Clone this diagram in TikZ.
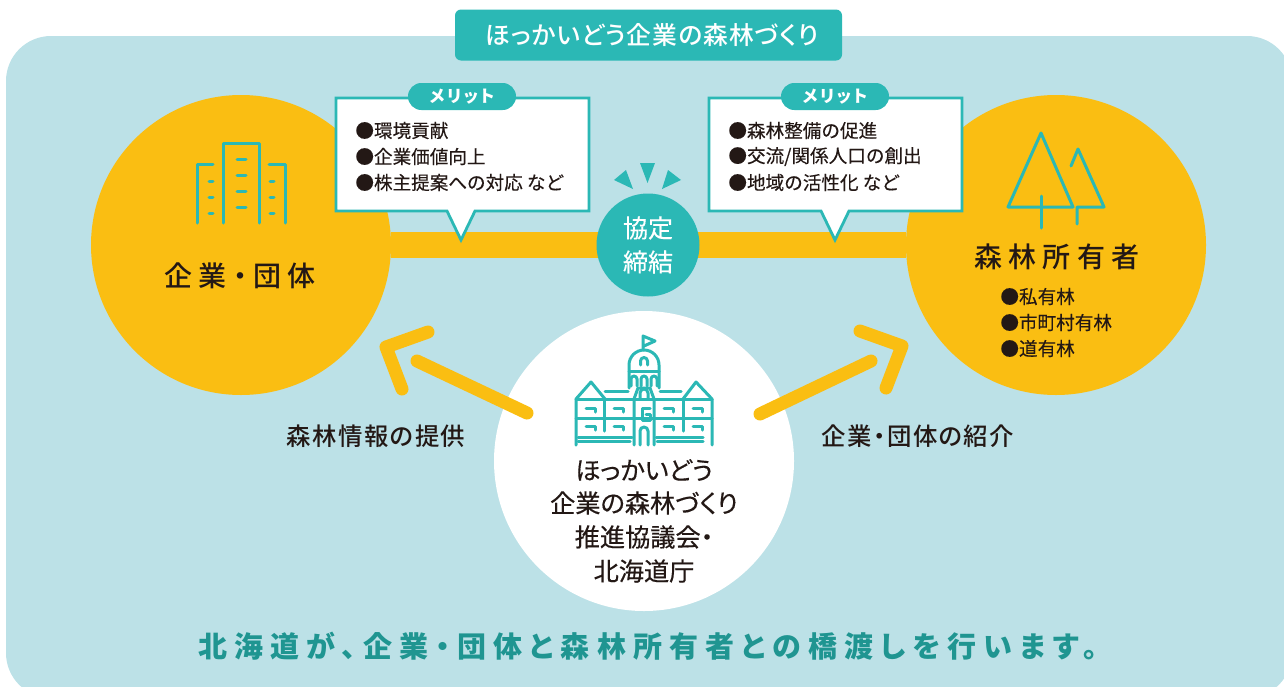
\documentclass[tikz,border=0pt]{standalone}
\usepackage{fontspec}
\setmainfont[RawFeature=+palt]{Noto Sans CJK JP}
\newfontfamily\plainjp[FakeBold=0.25]{Noto Sans CJK JP}
\newfontfamily\heavyjp[RawFeature=+palt,FakeBold=0.35]{Noto Sans CJK JP}
\newfontfamily\mediumjp[RawFeature=+palt]{Noto Sans CJK JP Medium}
\definecolor{panelblue}{HTML}{BCE1E7}
\definecolor{sunyellow}{HTML}{FABE12}
\definecolor{mintteal}{HTML}{2BB8B5}
\definecolor{deepteal}{HTML}{1F9591}
\definecolor{inkblack}{HTML}{231815}
\tikzset{
  bigcircle/.style={circle,fill=sunyellow,minimum size=150pt,inner sep=0pt},
  iconline/.style={mintteal,line width=1.5pt,line cap=round,line join=round},
  yellowline/.style={sunyellow,line width=6.5pt,line cap=round,line join=round},
  balloon/.style={mintteal,fill=white,line width=1.4pt,line join=miter},
  meritpill/.style={fill=mintteal,rounded corners=6.7pt,minimum width=54pt,minimum height=13.5pt,inner sep=0pt,text=white,font=\fontsize{8.4}{9}\bfseries\selectfont\addfontfeature{LetterSpace=14}},
  listitem/.style={anchor=west,inner sep=0pt,text=inkblack,font=\plainjp\fontsize{9.3}{11}\selectfont},
  ownername/.style={inner sep=0pt,text=inkblack,font=\mediumjp\fontsize{14}{16}\selectfont\addfontfeature{LetterSpace=22}},
  flowlabel/.style={inner sep=0pt,text=inkblack,font=\mediumjp\fontsize{12.2}{14}\selectfont\addfontfeature{LetterSpace=6}},
  signlabel/.style={inner sep=0pt,text=white,font=\heavyjp\fontsize{12.5}{14}\selectfont},
  officeline/.style={inner sep=0pt,text=inkblack,font=\heavyjp\fontsize{12.6}{14}\selectfont},
}
\begin{document}
\begin{tikzpicture}[x=0.5pt,y=-0.5pt]
\useasboundingbox (0,0) rectangle (1284,686);

\fill[panelblue,rounded corners=22.5pt] (6,36) rectangle (1292,698);

% title bar
\node[fill=mintteal,rounded corners=3pt,minimum width=193.5pt,minimum height=25.5pt,inner sep=0pt] (titlebar) at (648.5,35) {};
\node[inner sep=0pt,text=white,font=\mediumjp\fontsize{12.4}{14}\selectfont\addfontfeature{LetterSpace=4}] (titletext) at (652,35) {ほっかいどう企業の森林づくり};

%---------------------------------------------------
\node[bigcircle] (firm) at (241,245) {};
\node[bigcircle] (forest) at (1056,245) {};
\node[circle,fill=white,minimum size=150pt,inner sep=0pt] (office) at (644,461) {};
\draw[sunyellow,line width=13pt] (firm) -- (forest);

%---------------------------------------------------
\draw[balloon] (336,98) -- (589,98) -- (589,211) -- (475,211) -- (461,240) -- (447,211) -- (336,211) -- cycle;
\draw[balloon] (709,98) -- (962,98) -- (962,211) -- (849,211) -- (835,240) -- (821,211) -- (709,211) -- cycle;
\node[meritpill] (meritA) at (462,96.5) {メリット};
\node[meritpill] (meritB) at (835,96.5) {メリット};

\node[listitem] (itemA1) at (355,130.5) {●環境貢献};
\node[listitem] (itemA2) at (355,156.5) {●企業価値向上};
\node[listitem] (itemA3) at (355,182.5) {●株主提案への対応 など};
\node[listitem] (itemB1) at (728,130.5) {●森林整備の促進};
\node[listitem] (itemB2) at (728,156.5) {●交流/関係人口の創出};
\node[listitem] (itemB3) at (728,182.5) {●地域の活性化 など};

%---------------------------------------------------
\node[circle,fill=mintteal,minimum size=51.5pt,inner sep=0pt] (pact) at (648,245) {};
\node[signlabel] (pactA) at (648,228) {協定};
\node[signlabel] (pactB) at (648,262) {締結};
\fill[mintteal] (640,163) -- (655,163) -- (647.5,183) -- cycle;
\fill[mintteal] (614,180) -- (626,170) -- (633,189) -- cycle;
\fill[mintteal] (681,180) -- (668,170) -- (662,189) -- cycle;

%---------------------------------------------------
\node[ownername] (firmname) at (240,276) {企業・団体};
\node[ownername] (forestname) at (1057,257) {森林所有者};
\node[listitem] (ownA) at (1000,296.5) {●私有林};
\node[listitem] (ownB) at (1000,322.5) {●市町村有林};
\node[listitem] (ownC) at (1000,348.5) {●道有林};

% arrows
\coordinate (leftfrom) at (527,413);
\coordinate (lefttip) at (417,361);
\coordinate (leftbarbA) at (428,332);
\coordinate (leftcorner) at (386,347);
\coordinate (leftbarbB) at (402,389);
\coordinate (rightfrom) at (760,414);
\coordinate (righttip) at (871,361);
\coordinate (rightbarbA) at (860,331);
\coordinate (rightcorner) at (902,346);
\coordinate (rightbarbB) at (886,388);
\draw[yellowline] (leftfrom) -- (lefttip);
\draw[yellowline] (leftbarbA) -- (leftcorner) -- (leftbarbB);
\draw[yellowline] (rightfrom) -- (righttip);
\draw[yellowline] (rightbarbA) -- (rightcorner) -- (rightbarbB);

\node[flowlabel] (infolabel) at (376,436) {森林情報の提供};
\node[flowlabel] (introlabel) at (918,436) {企業・団体の紹介};

%---------------------------------------------------
\node[officeline] (officeA) at (644,470) {ほっかいどう};
\node[officeline] (officeB) at (644,503) {企業の森林づくり};
\node[officeline] (officeC) at (644,537) {推進協議会・};
\node[officeline] (officeD) at (644,571) {北海道庁};

\node[inner sep=0pt,text=deepteal,font=\fontsize{14.5}{17}\bfseries\selectfont\addfontfeature{LetterSpace=24.5}] (slogan) at (648,646) {北海道が、企業・団体と森林所有者との橋渡しを行います。};

%--------------------------------------------------- company icon
\draw[iconline] (223,223) -- (223,143) -- (259,143) -- (259,223);
\draw[iconline] (197,223) -- (197,164) -- (213,164);
\draw[iconline] (285,223) -- (285,164) -- (269,164);
\foreach \yy in {159,175,191,207} \draw[iconline] (237,\yy) -- (246,\yy);
\foreach \yy in {181,197,213} {
  \draw[iconline] (209,\yy) -- (213,\yy);
  \draw[iconline] (270,\yy) -- (274,\yy);
}

%--------------------------------------------------- tree icon
\draw[iconline] (1041,133) -- (1008,207) -- (1073,207) -- cycle;
\draw[iconline] (1041,196) -- (1041,228);
\draw[iconline] (1071,166) -- (1078,149) -- (1104,207) -- (1077,207) -- (1077,224);

%--------------------------------------------------- office icon
\draw[iconline] (643,350) -- (643,336) -- (655,341) -- (644,346);
\draw[iconline] (629,388) -- (629,365) arc[start angle=180,end angle=360,radius=15] -- (659,388);
\draw[iconline] (629,371) -- (659,371);
\draw[iconline] (640.5,365) -- (640.5,361) arc[start angle=180,end angle=360,radius=3.5] -- (647.5,365);
\foreach \xx in {631,641,651} \draw[iconline] (\xx,386) -- (\xx,379) arc[start angle=180,end angle=360,radius=3] -- (\xx+6,386);
\draw[iconline] (576,445) -- (576,399) -- (591,382) -- (605,399);
\draw[iconline] (712,445) -- (712,399) -- (696,382) -- (683,399);
\draw[iconline] (605,391) -- (628,391) (660,391) -- (681,391);
\draw[iconline] (576,399) -- (712,399);
\draw[iconline] (576,418) -- (712,418);
\draw[iconline] (578,437) -- (632,437) (656,437) -- (703,437);
\draw[iconline] (578,441) -- (630,441) (657,441) -- (703,441);
\draw[iconline] (604,399) -- (604,431) (683,399) -- (683,431);
\draw[iconline] (634,445) -- (634,399) -- (638,388) -- (650,388) -- (654,399) -- (654,445);
\draw[iconline] (640,445) -- (640,431) arc[start angle=180,end angle=360,radius=4] -- (648,445);
\draw[iconline] (640,398) -- (640,393) arc[start angle=180,end angle=360,radius=4] -- (648,398);
\draw[iconline] (650,408) -- (642,408) -- (642,420) -- (650,420) -- (650,414) -- (646,414);
\foreach \xx in {586,614,664,693} {
  \draw[iconline] (\xx,408) -- (\xx+9,408) -- (\xx+9,412);
  \draw[iconline] (\xx,426) -- (\xx+9,426) -- (\xx+9,430);
}

\end{tikzpicture}
\end{document}
